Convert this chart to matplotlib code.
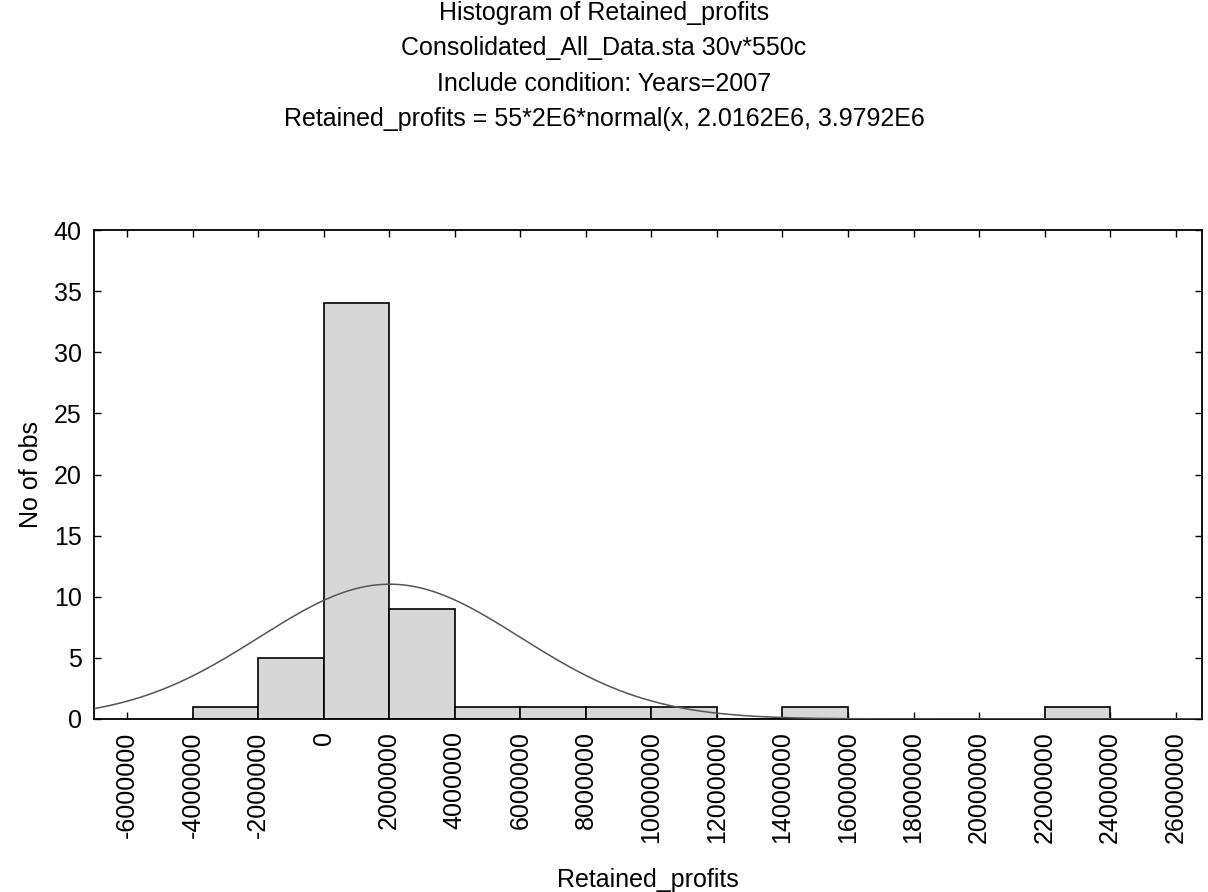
import numpy as np
import matplotlib
matplotlib.use("Agg")
import matplotlib.pyplot as plt

plt.rcParams['font.family'] = ['Liberation Sans', 'DejaVu Sans']

# Histogram bins (left edges) and counts
bin_edges = [-4e6, -2e6, 0, 2e6, 4e6, 6e6, 8e6, 10e6, 12e6, 14e6, 16e6, 18e6, 20e6, 22e6, 24e6]
counts = [1, 5, 34, 9, 1, 1, 1, 1, 0, 1, 0, 0, 0, 1]

# Normal fit parameters
n_obs = 55
bin_w = 2e6
mu = 2.0162e6
sigma = 3.9792e6

xticks = list(range(-6000000, 26000001, 2000000))
yticks = [0, 5, 10, 15, 20, 25, 30, 35, 40]

titles = [
    "Histogram of Retained_profits",
    "Consolidated_All_Data.sta 30v*550c",
    "Include condition: Years=2007",
    "Retained_profits = 55*2E6*normal(x, 2.0162E6, 3.9792E6",
]

FS = 18

fig = plt.figure(figsize=(12.08, 8.92), dpi=100)
ax = fig.add_axes([0.078, 0.194, 0.917, 0.548])

lefts = np.array(bin_edges[:-1])
ax.bar(lefts, counts, width=np.diff(bin_edges), align='edge',
       color='#d7d7d7', edgecolor='black', linewidth=1.2, zorder=2)

xs = np.linspace(-7e6, 26.8e6, 600)
ys = n_obs * bin_w * np.exp(-0.5 * ((xs - mu) / sigma) ** 2) / (sigma * np.sqrt(2 * np.pi))
ax.plot(xs, ys, color='#555555', linewidth=1.1, zorder=3)

ax.set_xlim(-7e6, 26.8e6)
ax.set_ylim(0, 40)
ax.set_xticks(xticks)
ax.set_xticklabels([str(v) for v in xticks], rotation=90, fontsize=FS)
ax.set_yticks(yticks)
ax.set_yticklabels([str(v) for v in yticks], fontsize=FS)
ax.tick_params(direction='in', length=5, width=1, top=True, right=True, pad=9)
for s in ax.spines.values():
    s.set_linewidth(1.3)

ax.set_xlabel("Retained_profits", fontsize=FS, labelpad=18)
ax.set_ylabel("No of obs", fontsize=FS, labelpad=8)

for i, t in enumerate(titles):
    fig.text(0.5, 1 - (13 + 35.3 * i) / 892, t, ha='center', va='center', fontsize=FS)

fig.savefig("out.png", dpi=100)
